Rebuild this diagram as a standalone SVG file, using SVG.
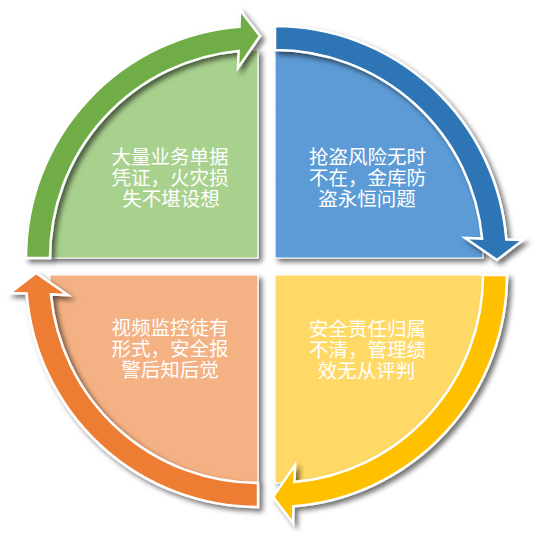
<svg xmlns="http://www.w3.org/2000/svg" width="540" height="540" viewBox="0 0 540 540">
<defs>
<filter id="sh" x="-10%" y="-10%" width="130%" height="130%">
<feDropShadow dx="3.5" dy="3.5" stdDeviation="2.5" flood-color="#000" flood-opacity="0.55"/>
</filter>
<path id="wedge" d="M0,0 L0,-208 A208,208 0 0 1 208,0 Z"/>
<path id="arc" d="M0,-232 A232,232 0 0 1 231.3,-18.5 L248,-18 L222,2 L190,-20 L207.1,-19.4 A208,208 0 0 0 0,-208 Z"/>
</defs>
<style>
.w{stroke:#fff;stroke-width:1.2}
.a{stroke:#fff;stroke-width:2.5;stroke-linejoin:miter}
.t{font-family:"Noto Sans CJK SC","Noto Sans",sans-serif;font-size:19.5px;fill:#fff;text-anchor:middle}
</style>
<rect width="540" height="540" fill="#fff"/>
<g id="node-green">
<g filter="url(#sh)"><use href="#wedge" class="w" fill="#A9D18E" transform="translate(258,258) rotate(-90)"/></g>
<text class="t"><tspan x="170" y="163.5">大量业务单据</tspan><tspan x="170" y="184.5">凭证，火灾损</tspan><tspan x="171" y="205.5">失不堪设想</tspan></text>
</g>
<g id="node-blue">
<g filter="url(#sh)"><use href="#wedge" class="w" fill="#5B9BD5" transform="translate(275,258)"/></g>
<text class="t"><tspan x="367.5" y="163.5">抢盗风险无时</tspan><tspan x="367.5" y="184.5">不在，金库防</tspan><tspan x="367" y="205.5">盗永恒问题</tspan></text>
</g>
<g id="node-orange">
<g filter="url(#sh)"><use href="#wedge" class="w" fill="#F4B183" transform="translate(258,275) rotate(180)"/></g>
<text class="t"><tspan x="170" y="335">视频监控徒有</tspan><tspan x="170" y="356">形式，安全报</tspan><tspan x="170" y="377">警后知后觉</tspan></text>
</g>
<g id="node-yellow">
<g filter="url(#sh)"><use href="#wedge" class="w" fill="#FFD966" transform="translate(275,275) rotate(90)"/></g>
<text class="t"><tspan x="367.5" y="336">安全责任归属</tspan><tspan x="367.5" y="357">不清，管理绩</tspan><tspan x="366.5" y="378">效无从评判</tspan></text>
</g>
<g id="connectors">
<g filter="url(#sh)"><use href="#arc" class="a" fill="#70AD47" transform="translate(258,258) rotate(-90)"/></g>
<g filter="url(#sh)"><use href="#arc" class="a" fill="#2E75B6" transform="translate(275,258)"/></g>
<g filter="url(#sh)"><use href="#arc" class="a" fill="#FFC000" transform="translate(275,275) rotate(90)"/></g>
<g filter="url(#sh)"><use href="#arc" class="a" fill="#ED7D31" transform="translate(258,275) rotate(180)"/></g>
</g>
</svg>
